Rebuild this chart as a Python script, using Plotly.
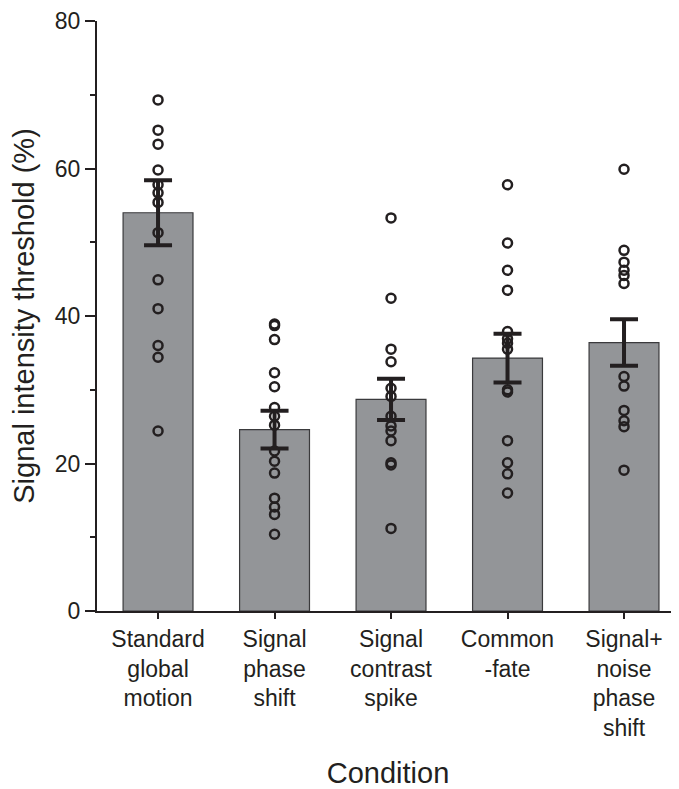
import plotly.graph_objects as go

conditions = ["Standard<br>global<br>motion", "Signal<br>phase<br>shift", "Signal<br>contrast<br>spike",
              "Common<br>-fate", "Signal+<br>noise<br>phase<br>shift"]
means = [54.0, 24.6, 28.7, 34.3, 36.4]
sems = [4.4, 2.55, 2.8, 3.3, 3.15]

pts_standard = [69.3, 65.2, 63.3, 59.8, 57.8, 56.7, 55.4, 51.3, 44.9, 41.0, 36.0, 34.4, 24.4]
pts_phase = [38.9, 38.7, 36.8, 32.3, 30.4, 27.6, 26.4, 25.2, 21.7, 20.3, 18.7, 15.3, 14.1, 13.1, 10.4]
pts_contrast = [53.3, 42.4, 35.5, 33.8, 30.2, 29.1, 26.4, 25.1, 24.4, 23.1, 20.1, 19.8, 11.2]
pts_common = [57.8, 49.9, 46.2, 43.5, 37.9, 36.9, 36.3, 35.5, 30.0, 29.7, 23.1, 20.1, 18.6, 16.0]
pts_noise = [59.9, 48.9, 47.3, 46.2, 45.5, 44.4, 31.8, 30.5, 27.2, 25.8, 25.0, 19.1]

groups = [pts_standard, pts_phase, pts_contrast, pts_common, pts_noise]
xpos = list(range(len(conditions)))

ink = "#231f20"
font_family = "Liberation Sans, Arial, Helvetica, sans-serif"

fig = go.Figure()
fig.add_trace(go.Bar(
    x=xpos, y=means, width=0.6,
    marker=dict(color="#939598", line=dict(color="#3a3a3c", width=1.2)),
    hoverinfo="skip", showlegend=False,
))

px, py = [], []
for i, g in enumerate(groups):
    px += [xpos[i]] * len(g)
    py += g
fig.add_trace(go.Scatter(
    x=px, y=py, mode="markers",
    marker=dict(symbol="circle-open", size=9, color=ink, line=dict(color=ink, width=2.5)),
    showlegend=False,
))

fig.add_trace(go.Scatter(
    x=xpos, y=means, mode="markers",
    marker=dict(size=1, color="rgba(0,0,0,0)"),
    error_y=dict(type="data", array=sems, visible=True, color=ink, thickness=4, width=14),
    showlegend=False,
))

fig.update_layout(
    width=671, height=781,
    margin=dict(l=89, r=0, t=11, b=176),
    paper_bgcolor="white", plot_bgcolor="white",
    font=dict(family=font_family, color=ink),
    bargap=0.4,
)
fig.update_xaxes(
    range=[-0.524, 4.472],
    tickvals=xpos, ticktext=conditions,
    showline=True, linecolor=ink, linewidth=2,
    ticks="outside", ticklen=6, tickwidth=2, tickcolor=ink,
    tickfont=dict(size=23, color=ink),
    ticklabeloverflow="allow",
    showgrid=False, zeroline=False,
    title=dict(text="Condition", font=dict(size=29, color=ink), standoff=27),
)
fig.update_yaxes(
    range=[0, 80], tickvals=[0, 20, 40, 60, 80],
    showline=True, linecolor=ink, linewidth=2,
    ticks="outside", ticklen=10, tickwidth=2, tickcolor=ink,
    minor=dict(tickvals=[10, 30, 50, 70], ticks="outside", ticklen=5, tickwidth=2, tickcolor=ink),
    tickfont=dict(size=23, color=ink),
    ticklabeloverflow="allow",
    showgrid=False, zeroline=False,
    title=dict(text="Signal intensity threshold (%)", font=dict(size=29, color=ink), standoff=12),
)

fig.write_html("out.html")
